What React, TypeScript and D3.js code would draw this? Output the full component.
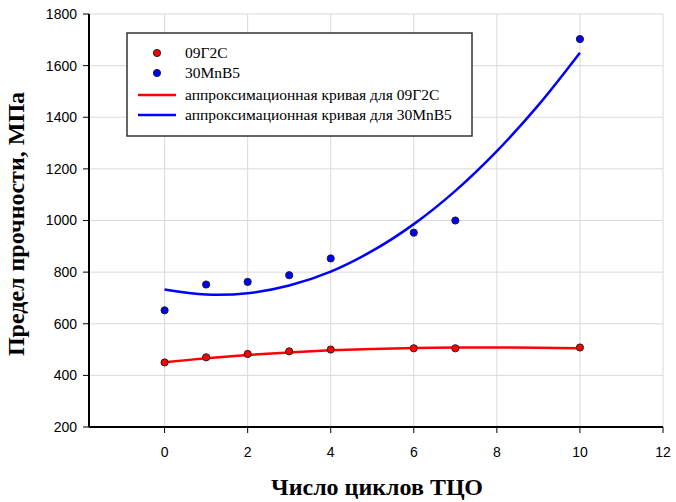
import React from "react";
import * as d3 from "d3";

const cycles = [0, 1, 2, 3, 4, 6, 7, 10];
const strength09G2S = [450, 470, 483, 493, 500, 505, 505, 508];
const strength30MnB5 = [652, 752, 762, 788, 853, 953, 1000, 1703];

const fitX = [0, 1, 2, 3, 4, 5, 6, 7, 8, 9, 10];
const fit09G2S = [451, 466, 479, 489, 497, 502, 506, 508, 508, 507, 505];
const fit30MnB5 = [733, 713, 718, 748, 802, 882, 986, 1115, 1269, 1447, 1650];

const xTicks = [0, 2, 4, 6, 8, 10, 12];
const yTicks = [200, 400, 600, 800, 1000, 1200, 1400, 1600, 1800];

const legendLabels = [
  "09Г2С",
  "30MnB5",
  "аппроксимационная кривая для 09Г2С",
  "аппроксимационная кривая для 30MnB5",
];

const RED = "#ff0000";
const BLUE = "#0000ff";

export default function App() {
  const W = 676, H = 502;
  const left = 89, right = 663, top = 14, bottom = 427;
  const x = d3.scaleLinear().domain([-1.82, 12]).range([left, right]);
  const y = d3.scaleLinear().domain([200, 1800]).range([bottom, top]);

  const line = d3
    .line<[number, number]>()
    .x((d) => x(d[0]))
    .y((d) => y(d[1]))
    .curve(d3.curveCatmullRom.alpha(0.5));

  const redFit = line(fitX.map((v, i) => [v, fit09G2S[i]] as [number, number]));
  const blueFit = line(fitX.map((v, i) => [v, fit30MnB5[i]] as [number, number]));

  const serif = "'Liberation Serif', 'Times New Roman', serif";
  const sans = "'Liberation Sans', Arial, sans-serif";

  const legendX = 127, legendY = 33;
  const rowsY = [53, 73, 95, 115];

  return (
    <svg width={W} height={H} style={{ position: "absolute", left: 0, top: 0, background: "#fff" }}>
      <rect width={W} height={H} fill="#fff" />
      {/* grid */}
      {yTicks.map((t) => (
        <line key={"gy" + t} x1={left} x2={right} y1={y(t)} y2={y(t)} stroke="#d9d9d9" strokeWidth={1} />
      ))}
      {xTicks.map((t) => (
        <line key={"gx" + t} x1={x(t)} x2={x(t)} y1={top} y2={bottom} stroke="#d9d9d9" strokeWidth={1} />
      ))}
      {/* axes */}
      <line x1={left} x2={left} y1={top} y2={bottom} stroke="#000" strokeWidth={2} />
      <line x1={left} x2={right} y1={bottom} y2={bottom} stroke="#000" strokeWidth={2} />
      {yTicks.map((t) => (
        <g key={"ty" + t}>
          <line x1={left - 6} x2={left} y1={y(t)} y2={y(t)} stroke="#000" strokeWidth={1} />
          <text x={left - 12} y={y(t)} dy="0.35em" textAnchor="end" fontFamily={sans} fontSize={14} fill="#000">
            {t}
          </text>
        </g>
      ))}
      {xTicks.map((t) => (
        <g key={"tx" + t}>
          <line x1={x(t)} x2={x(t)} y1={bottom} y2={bottom + 6} stroke="#000" strokeWidth={1} />
          <text x={x(t)} y={bottom + 30} textAnchor="middle" fontFamily={sans} fontSize={14} fill="#000">
            {t}
          </text>
        </g>
      ))}
      {/* fit curves */}
      <path d={redFit || ""} fill="none" stroke={RED} strokeWidth={2.5} />
      <path d={blueFit || ""} fill="none" stroke={BLUE} strokeWidth={2.5} />
      {/* points */}
      {cycles.map((c, i) => (
        <circle key={"r" + i} cx={x(c)} cy={y(strength09G2S[i])} r={3.6} fill={RED} stroke="#222" strokeWidth={1} />
      ))}
      {cycles.map((c, i) => (
        <circle key={"b" + i} cx={x(c)} cy={y(strength30MnB5[i])} r={3.6} fill={BLUE} stroke="#222" strokeWidth={1} />
      ))}
      {/* legend */}
      <rect x={legendX} y={legendY} width={345} height={103} fill="#fff" stroke="#333" strokeWidth={1.5} />
      <circle cx={157} cy={rowsY[0]} r={3.6} fill={RED} stroke="#222" strokeWidth={1} />
      <circle cx={157} cy={rowsY[1]} r={3.6} fill={BLUE} stroke="#222" strokeWidth={1} />
      <line x1={138} x2={176} y1={rowsY[2]} y2={rowsY[2]} stroke={RED} strokeWidth={2.5} />
      <line x1={138} x2={176} y1={rowsY[3]} y2={rowsY[3]} stroke={BLUE} strokeWidth={2.5} />
      {legendLabels.map((l, i) => (
        <text key={l} x={185} y={rowsY[i]} dy="0.35em" fontFamily={serif} fontSize={15.5} fill="#000">
          {l}
        </text>
      ))}
      {/* axis titles */}
      <text x={377} y={495} textAnchor="middle" fontFamily={serif} fontWeight="bold" fontSize={24} fill="#000">
        Число циклов ТЦО
      </text>
      <text
        transform={`translate(24, ${224}) rotate(-90)`}
        textAnchor="middle"
        fontFamily={serif}
        fontWeight="bold"
        fontSize={24}
        fill="#000"
      >
        Предел прочности, МПа
      </text>
    </svg>
  );
}
